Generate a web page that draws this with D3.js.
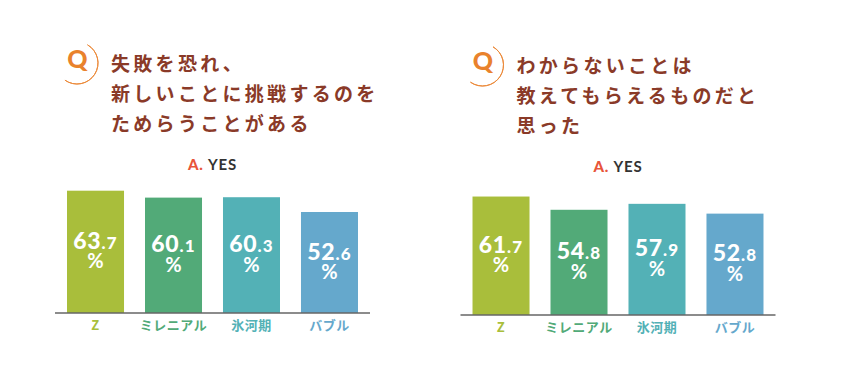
<!DOCTYPE html>
<html><head><meta charset="utf-8">
<script src="https://cdn.jsdelivr.net/npm/d3@7/dist/d3.min.js"></script>
<style>
html,body{margin:0;padding:0;background:#fff;}
svg{display:block;}
</style></head>
<body>
<svg id="chart" width="862" height="380"></svg>
<script>
const categories = ["Z", "ミレニアル", "氷河期", "バブル"];
const valuesLeft = [63.7, 60.1, 60.3, 52.6];
const valuesRight = [61.7, 54.8, 57.9, 52.8];
const titleLeft = ["失敗を恐れ、", "新しいことに挑戦するのを", "ためらうことがある"];
const titleRight = ["わからないことは", "教えてもらえるものだと", "思った"];
const answerLabel = ["A.", "YES"];
const barColors = ["#a9be3b", "#52aa78", "#53b1b6", "#65a8cc"];

const svg = d3.select("#chart");
const jp = "'Noto Sans CJK JP','Noto Sans',sans-serif";
const latin = "Lato,'Open Sans',sans-serif";

function panel(ox, oy, title, values) {
  const g = svg.append("g").attr("transform", `translate(${ox},${oy})`);
  // Q mark
  g.append("path")
    .attr("transform", "translate(77,63)")
    .attr("d", d3.arc()({innerRadius: 21, outerRadius: 21, startAngle: Math.PI * 30 / 180, endAngle: Math.PI * 215 / 180}))
    .attr("fill", "none").attr("stroke", "#ec8a3a").attr("stroke-width", 1);
  g.append("text").attr("x", 77.5).attr("y", 68).attr("text-anchor", "middle")
    .attr("font-family", latin).attr("font-weight", 900).attr("font-size", 25)
    .attr("fill", "#e9822c").text("Q");
  // title
  g.append("g").selectAll("text").data(title).join("text")
    .attr("x", 111).attr("y", (d, i) => 71 + i * 30)
    .attr("font-family", jp).attr("font-weight", 700).attr("font-size", 19)
    .attr("letter-spacing", 3.3).attr("fill", "#8a3a28").text(d => d);

  const x = d3.scaleBand().domain(categories).range([55, 370]).paddingInner(0.269).paddingOuter(0.154);
  const y = d3.scaleLinear().domain([0, 100]).range([313, 121]);

  // answer label
  const t = g.append("text").attr("x", (55 + 370) / 2).attr("y", 170).attr("text-anchor", "middle")
    .attr("font-family", latin).attr("font-size", 15).attr("letter-spacing", 0.8);
  t.append("tspan").attr("fill", "#e8553a").attr("font-weight", 900).text(answerLabel[0] + " ");
  t.append("tspan").attr("fill", "#333").attr("font-weight", 700).text(answerLabel[1]);

  const data = categories.map((c, i) => ({c, v: values[i], col: barColors[i]}));
  g.append("g").selectAll("rect").data(data).join("rect")
    .attr("x", d => x(d.c)).attr("width", x.bandwidth())
    .attr("y", d => y(d.v)).attr("height", d => y(0) - y(d.v))
    .attr("fill", d => d.col);

  // baseline axis
  const axis = d3.axisBottom(x).tickSize(0).tickPadding(8);
  const ag = g.append("g").attr("transform", `translate(0,${y(0)})`).call(axis);
  ag.select(".domain").attr("stroke", "#666").attr("stroke-width", 1.5).attr("d", "M55,0H370");
  ag.selectAll(".tick text")
    .attr("font-family", jp).attr("font-weight", 700).attr("font-size", 13)
    .attr("letter-spacing", 0.5)
    .attr("fill", (d, i) => barColors[i]);

  // value labels
  const lbl = g.append("g").selectAll("g").data(data).join("g")
    .attr("transform", d => `translate(${x(d.c) + x.bandwidth() / 2},${(y(d.v) + y(0)) / 2})`);
  const num = lbl.append("text").attr("y", -3).attr("text-anchor", "middle")
    .attr("font-family", latin).attr("font-weight", 900).attr("fill", "#fff");
  num.append("tspan").attr("font-size", 23).attr("letter-spacing", 0.8).text(d => String(d.v).split(".")[0]);
  num.append("tspan").attr("font-size", 17).attr("letter-spacing", 1.2).text(d => "." + String(d.v).split(".")[1]);
  lbl.append("text").attr("y", 16.5).attr("text-anchor", "middle")
    .attr("font-family", latin).attr("font-weight", 700).attr("font-size", 20)
    .attr("fill", "#fff").text("%");
}

panel(0, 0, titleLeft, valuesLeft);
panel(405.5, 2, titleRight, valuesRight);
</script>
</body></html>
